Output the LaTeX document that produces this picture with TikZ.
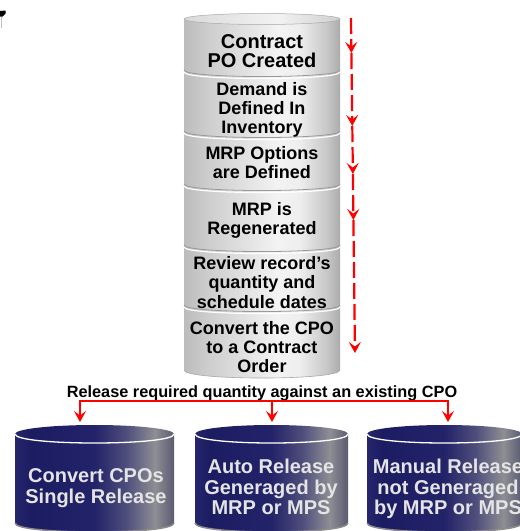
\documentclass[tikz,border=0pt]{standalone}
\usepackage{fontspec}
\setmainfont{Liberation Sans}
\usetikzlibrary{arrows.meta}
\definecolor{gA}{HTML}{BCBCBC}
\definecolor{gB}{HTML}{CCCCCC}
\definecolor{gC}{HTML}{F3F3F3}
\definecolor{gD}{HTML}{EEEEEE}
\definecolor{gE}{HTML}{C6C6C6}
\definecolor{gF}{HTML}{ABABAB}
\definecolor{tA}{HTML}{DADADA}
\definecolor{tB}{HTML}{F2F2F2}
\definecolor{tC}{HTML}{D0D0D0}
\definecolor{nA}{HTML}{26266E}
\definecolor{nB}{HTML}{1C1C62}
\definecolor{nC}{HTML}{232369}
\definecolor{nD}{HTML}{4E4E7C}
\definecolor{nE}{HTML}{8E8E94}
\definecolor{nF}{HTML}{5A5A72}
\definecolor{navytxt}{HTML}{E4E4E4}
\definecolor{segdark}{HTML}{9A9A9A}
\definecolor{rimgray}{HTML}{A8A8A8}
\definecolor{redc}{HTML}{FF0000}
\pgfdeclarehorizontalshading{grayshade}{100bp}{color(0bp)=(gA); color(25bp)=(gA); color(32bp)=(gB); color(55bp)=(gC); color(62bp)=(gD); color(71bp)=(gE); color(75bp)=(gF); color(100bp)=(gF)}
\pgfdeclarehorizontalshading{graytop}{100bp}{color(0bp)=(tA); color(25bp)=(tA); color(55bp)=(tB); color(75bp)=(tC); color(100bp)=(tC)}
\pgfdeclarehorizontalshading{navyshade}{100bp}{color(0bp)=(nA); color(25bp)=(nA); color(30bp)=(nB); color(50bp)=(nC); color(60bp)=(nD); color(69bp)=(nE); color(75bp)=(nF); color(100bp)=(nF)}
\tikzset{
  graytext/.style={font=\bfseries\fontsize{18}{19}\selectfont, align=center, text=black, inner sep=0pt},
  navytext/.style={font=\bfseries\fontsize{20}{20.8}\selectfont, align=center, text=navytxt, inner sep=0pt},
  redline/.style={draw=redc, line width=2.2pt},
  reddash/.style={redline, dash pattern=on 16pt off 5pt},
  redtip/.style={-{Stealth[length=11pt,width=12pt,inset=4.5pt]}},
  seglinedark/.style={draw=segdark, line width=0.8pt},
  seglinelight/.style={draw=white, line width=1.2pt}
}
\begin{document}
\begin{tikzpicture}[x=1pt,y=-1pt]
\useasboundingbox (0,0) rectangle (520,531);
\clip (0,0) rectangle (520,531);
% stray mark top-left
\fill[black] (0,11) -- (5.5,10.5) -- (5.5,13.5) -- (2.5,16.5) -- (0,16.5) -- cycle;
\draw[black!25, line width=1pt] (1,16.5) -- (1,28);
% gray stacked cylinder
\shade[shading=grayshade] (184,19) -- (184,370) .. controls (184,380.7) and (340,380.7) .. (340,370) -- (340,19) -- cycle;
\draw[rimgray, line width=0.6pt] (184,370) .. controls (184,380.7) and (340,380.7) .. (340,370);
\foreach \yb in {70,131,184,245,305}{
  \draw[seglinedark] (184,\yb) .. controls (184,\yb+8.7) and (340,\yb+8.7) .. (340,\yb);
  \draw[seglinelight] (184,\yb+2) .. controls (184,\yb+10.7) and (340,\yb+10.7) .. (340,\yb+2);
}
\shade[shading=graytop] (262,19) ellipse[x radius=78, y radius=5.5];
\draw[rimgray, line width=0.5pt] (262,19) ellipse[x radius=78, y radius=5.5];
\node[graytext, font=\bfseries\fontsize{20}{18.5}\selectfont] (s1) at (262,51) {Contract\\PO Created};
\node[graytext] (s2) at (262,110) {Demand is\\Defined In\\Inventory};
\node[graytext] (s3) at (262,162.5) {MRP Options\\are Defined};
\node[graytext] (s4) at (262,220.4) {MRP is\\Regenerated};
\node[graytext, font=\bfseries\fontsize{18}{19.5}\selectfont] (s5) at (262,282.5) {Review record’s\\quantity and\\schedule dates};
\node[graytext] (s6) at (262,347) {Convert the CPO\\to a Contract\\Order};
% red dashed progress arrow
\coordinate (d0) at (351,18);
\coordinate (d1) at (351.4,53);
\coordinate (d2) at (352.3,126);
\coordinate (d3) at (352.9,174);
\coordinate (d4) at (353.4,220);
\coordinate (d5) at (355,353);
\draw[reddash,redtip] (d0) -- (d1);
\draw[reddash,redtip] (d1) -- (d2);
\draw[reddash,redtip] (d2) -- (d3);
\draw[reddash,redtip] (d3) -- (d4);
\draw[reddash,redtip] (d4) -- (d5);
% release label and bracket
\node[font=\bfseries\fontsize{16.3}{18}\selectfont, anchor=base, inner sep=0pt] (rel) at (262,397) {Release required quantity against an existing CPO};
\coordinate (hl) at (80,401);
\coordinate (hm) at (272,401);
\coordinate (hr) at (448,401);
\coordinate (a1) at (80,422);
\coordinate (a2) at (272,422);
\coordinate (a3) at (448,422);
\draw[redline,redtip] (hm) -- (hl) -- (a1);
\draw[redline,redtip] (hm) -- (hr) -- (a3);
\draw[redline,redtip] (hm) -- (a2);
% navy cylinders
\foreach \cx/\rx in {94.5/79.5, 271.5/76.5, 444.5/77.5}{
  \shade[shading=navyshade] (\cx-\rx,434) -- (\cx-\rx,523) .. controls (\cx-\rx,535) and (\cx+\rx,535) .. (\cx+\rx,523) -- (\cx+\rx,434) -- cycle;
  \draw[black!45, line width=1.5pt] (\cx-\rx,523) .. controls (\cx-\rx,535) and (\cx+\rx,535) .. (\cx+\rx,523);
  \shade[shading=navyshade] (\cx,434) ellipse[x radius=\rx, y radius=9];
  \draw[white, line width=1.3pt] (\cx-\rx,434) .. controls (\cx-\rx,446) and (\cx+\rx,446) .. (\cx+\rx,434);
}
\node[navytext, font=\bfseries\fontsize{20}{21}\selectfont] (b1) at (96,488.4) {Convert CPOs\\Single Release};
\node[navytext] (b2) at (271,487) {Auto Release\\Generaged by\\MRP or MPS};
\node[navytext] (b3) at (448,489) {Manual Release\\not Generaged\\by MRP or MPS};
\end{tikzpicture}
\end{document}
